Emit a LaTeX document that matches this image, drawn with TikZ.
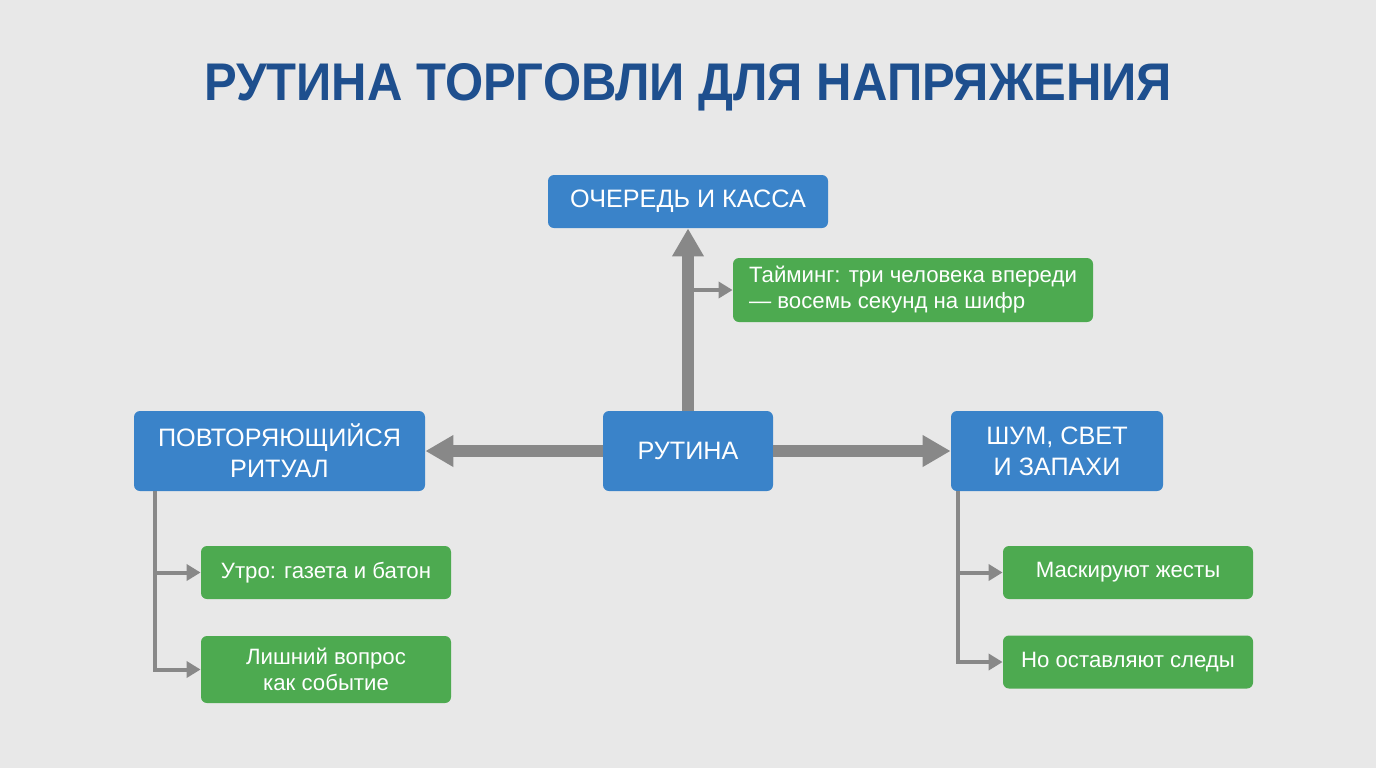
\documentclass[tikz,border=0pt]{standalone}
\usepackage{fontspec}
\setmainfont{Liberation Sans}
\newfontfamily\titlefont[FakeStretch=0.925]{Liberation Sans}
\usetikzlibrary{arrows.meta}

\definecolor{bggray}{HTML}{E8E8E8}
\definecolor{titleblue}{HTML}{1E4F8E}
\definecolor{boxblue}{HTML}{3A83C9}
\definecolor{leafgreen}{HTML}{4DAA50}
\definecolor{arrowgray}{HTML}{888888}

\begin{document}
\begin{tikzpicture}[x=0.5pt, y=-0.5pt,
  main/.style={rectangle, fill=boxblue, rounded corners=3pt, text=white, align=center, inner sep=0pt, font=\fontsize{12.6}{15.5}\selectfont},
  leaf/.style={rectangle, fill=leafgreen, rounded corners=3pt, text=white, align=center, inner sep=0pt, minimum width=125pt, minimum height=26.5pt, font=\fontsize{11.1}{13}\selectfont},
  trunk/.style={-{Triangle[length=14pt, width=15pt]}, line width=6pt, arrowgray},
  branch/.style={-{Triangle[length=7pt, width=8pt]}, line width=2pt, arrowgray}
]
\fill[bggray] (0,0) rectangle (1376,768);

\node[text=titleblue, font=\titlefont\bfseries\fontsize{26.5}{30}\selectfont] (title) at (688,87) {РУТИНА ТОРГОВЛИ ДЛЯ НАПРЯЖЕНИЯ};

\node[main, minimum width=140pt, minimum height=26.5pt] (queue) at (688,201.5) {ОЧЕРЕДЬ И КАССА};
\node[leaf, minimum width=180pt, minimum height=32pt, align=left] (timing) at (913,290) {Тайминг: три человека впереди\\— восемь секунд на шифр};
\node[main, minimum width=85pt, minimum height=40pt] (routine) at (688,451) {РУТИНА};
\node[main, minimum width=145.5pt, minimum height=40pt] (ritual) at (279.5,451) {ПОВТОРЯЮЩИЙСЯ\\РИТУАЛ};
\node[main, minimum width=106pt, minimum height=40pt] (noise) at (1057,451) {ШУМ, СВЕТ\\И ЗАПАХИ};

\node[leaf] (morning) at (326,572.5) {Утро: газета и батон};
\node[leaf, minimum height=33.5pt] (question) at (326,669.5) {Лишний вопрос\\как событие};
\node[leaf] (mask) at (1128,572.5) {Маскируют жесты};
\node[leaf] (traces) at (1128,662) {Но оставляют следы};

\coordinate (lroot) at ([xshift=10.5pt]ritual.south west);
\coordinate (rroot) at ([xshift=3.5pt]noise.south west);

\draw[trunk] (routine) -- (queue);
\draw[trunk] (routine) -- (ritual);
\draw[trunk] (routine) -- (noise);
\draw[branch] (routine.north |- timing.west) -- (timing);

\draw[branch] (lroot) |- (question);
\draw[branch] (lroot |- morning) -- (morning);
\draw[branch] (rroot) |- (traces);
\draw[branch] (rroot |- mask) -- (mask);
\end{tikzpicture}
\end{document}
